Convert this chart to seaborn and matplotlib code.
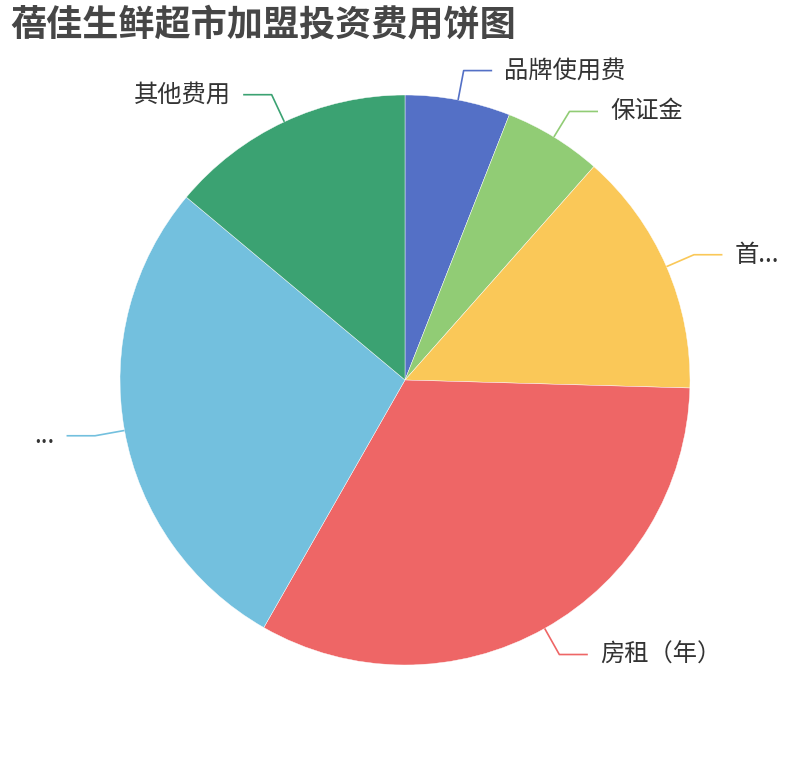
import numpy as np
import matplotlib
matplotlib.use("Agg")
import matplotlib.pyplot as plt
import seaborn as sns

# ====================================================
# Data
# ====================================================
labels = ['品牌使用费', '保证金', '首...', '房租（年）', '...', '其他费用']
values = [3, 2.8, 7, 16.5, 14, 7]
colors = ['#5470c6', '#91cc75', '#fac858', '#ee6666', '#73c0de', '#3ba272']
title = '蓓佳生鲜超市加盟投资费用饼图'

sns.set_theme(style='white')
plt.rcParams['font.family'] = ['Noto Sans CJK SC', 'DejaVu Sans']

W, H, DPI = 810, 760, 100
R_PX = 285.0
CX, CY = 405.0, 380.0

fig = plt.figure(figsize=(W / DPI, H / DPI), dpi=DPI)
ax = fig.add_axes([0, 0, 1, 1])

palette = sns.color_palette(colors)
wedges, _ = ax.pie(values, colors=palette, startangle=90, counterclock=False,
                   radius=1.0, wedgeprops=dict(linewidth=0.3, edgecolor='white'))

# pie() resets the limits, so set them afterwards
ax.set_xlim(-CX / R_PX, (W - CX) / R_PX)
ax.set_ylim(-(H - CY) / R_PX, CY / R_PX)
ax.set_aspect('equal')
ax.axis('off')

# label lines (edge -> elbow -> horizontal)
for w, lab, col in zip(wedges, labels, palette):
    mid = np.deg2rad((w.theta1 + w.theta2) / 2)
    c, s = np.cos(mid), np.sin(mid)
    x0, y0 = c, s
    x1, y1 = 1.105 * c, 1.105 * s
    side = 1 if c >= 0 else -1
    x2 = x1 + side * 0.1
    ax.plot([x0, x1, x2], [y0, y1, y1], color=col, lw=1.2, solid_capstyle='butt')
    ax.text(x2 + side * 0.042, y1, lab, ha='left' if side > 0 else 'right',
            va='center', fontsize=17.5, color='#333333')

fig.text(10 / W, 1 - 7 / H, title, ha='left', va='top', fontsize=26,
         fontweight='bold', color='#464646')

fig.savefig('out.png', dpi=DPI, facecolor='white')
